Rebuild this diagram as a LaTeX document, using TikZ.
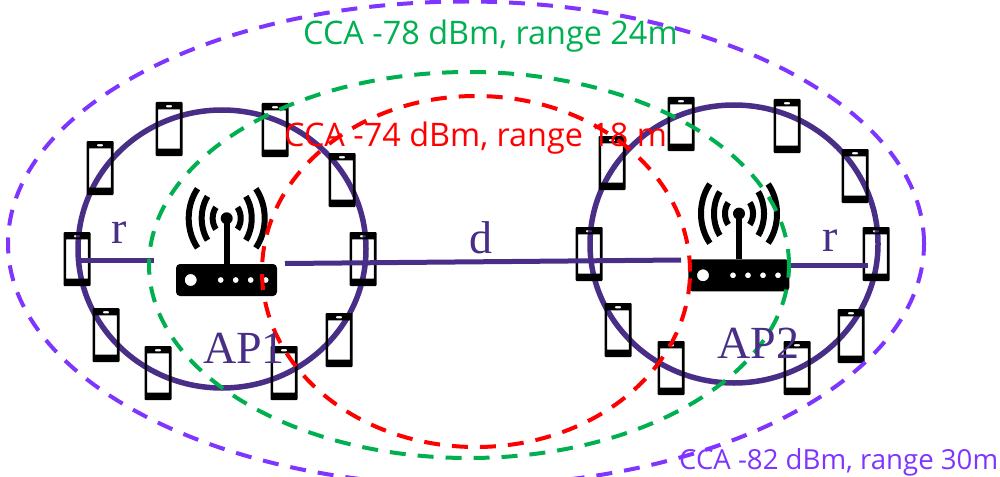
\documentclass[tikz,border=0pt]{standalone}
\usepackage{fontspec}
\setmainfont{Liberation Serif}
\newfontfamily\labelfont{Open Sans}
\usetikzlibrary{shapes.geometric}
\definecolor{cellpurple}{HTML}{482E87}
\definecolor{ccapurple}{HTML}{7F35FF}
\definecolor{ccagreen}{HTML}{00B050}
\definecolor{ccared}{HTML}{FF0000}
\tikzset{
  cellring/.style={draw=cellpurple,line width=5.5pt,ellipse,inner sep=0pt,outer sep=0pt,minimum width=288pt,minimum height=278pt},
  ccarange/.style={ellipse,inner sep=0pt,outer sep=0pt,line width=4pt,dash pattern=on 16pt off 12pt},
  linkline/.style={draw=cellpurple,line width=5pt},
  seriflabel/.style={text=cellpurple,font=\fontsize{46}{46}\selectfont,inner sep=0pt,anchor=base},
  ccalabel/.style={font=\labelfont\fontsize{32.4}{33}\selectfont,inner sep=0pt,anchor=base west},
  phonepic/.pic={
    \fill[black,even odd rule,rounded corners=1pt] (-13.5,-27) rectangle (13.5,27)
      [sharp corners] (-10.8,-19.7) rectangle (10.8,19.7)
      [rounded corners=1pt] (-3.3,-23.8) rectangle (3.3,-21.6);
  },
  routerpic/.pic={
    \fill[black,even odd rule,rounded corners=4pt] (0,0) rectangle (101,32)
      [sharp corners] (14.7,16) circle (6) (44.7,16) circle (3) (59.7,16) circle (3) (74.7,16) circle (3) (89.7,16) circle (3);
    \fill[black] (47.7,-45) rectangle (53.7,0);
    \fill[black] (50.7,-45.7) circle (6);
    \foreach \rx/\ry in {14/17,25/34,38/46}{
      \draw[black,line width=6pt] plot[domain=140:220,samples=30] ({50.7+\rx*cos(\x)},{-45.7+\ry*sin(\x)});
      \draw[black,line width=6pt] plot[domain=-40:40,samples=30] ({50.7+\rx*cos(\x)},{-45.7+\ry*sin(\x)});
    }
  }
}
\begin{document}
\begin{tikzpicture}[x=1pt,y=-1pt]
\useasboundingbox (0,0) rectangle (1000,476);
% cells
\node[cellring] (cellA) at (222,249) {};
\node[cellring] (cellB) at (734,244) {};
% phones
\foreach \px/\py in {169/129,275/130,342/180,363/259,339/340,284/373,158/373,106/335,77/259,100/168,
                     681/124,787/126,855/176,876/254,851/336,797/368,671/368,618/330,589/254,612/163}
  \pic at (\px,\py) {phonepic};
% routers
\pic at (176,264) {routerpic};
\pic at (688.3,259.3) {routerpic};
% links
\coordinate (rAa) at (81,260);
\coordinate (rAb) at (154,260);
\coordinate (da) at (285,263.5);
\coordinate (db) at (681,260);
\coordinate (rBa) at (790,265);
\coordinate (rBb) at (868,265);
\draw[linkline] (rAa) -- (rAb);
\draw[linkline] (da) -- (db);
\draw[linkline] (rBa) -- (rBb);
% range ellipses
\node[ccarange,draw=ccapurple,minimum width=916pt,minimum height=484pt] (rangeP) at (466,243.5) {};
\node[ccarange,draw=ccagreen,minimum width=640pt,minimum height=386pt] (rangeG) at (469,265) {};
\node[ccarange,draw=ccared,minimum width=428pt,minimum height=351pt] (rangeR) at (476,271.5) {};
% labels
\node[seriflabel] (lr1) at (119.5,243) {r};
\node[seriflabel] (ld) at (480.5,253) {d};
\node[seriflabel] (lr2) at (830,251) {r};
\node[seriflabel] (lap1) at (244,363) {AP1};
\node[seriflabel] (lap2) at (758.5,358) {AP2};
\node[ccalabel,text=ccagreen] (lg) at (303,45) {CCA -78 dBm, range 24m};
\node[ccalabel,text=ccared] (lred) at (284,146) {CCA -74 dBm, range 18 m};
\node[ccalabel,text=ccapurple,font=\labelfont\fontsize{27.6}{28}\selectfont] (lp) at (679,469) {CCA -82 dBm, range 30m};
\end{tikzpicture}
\end{document}
